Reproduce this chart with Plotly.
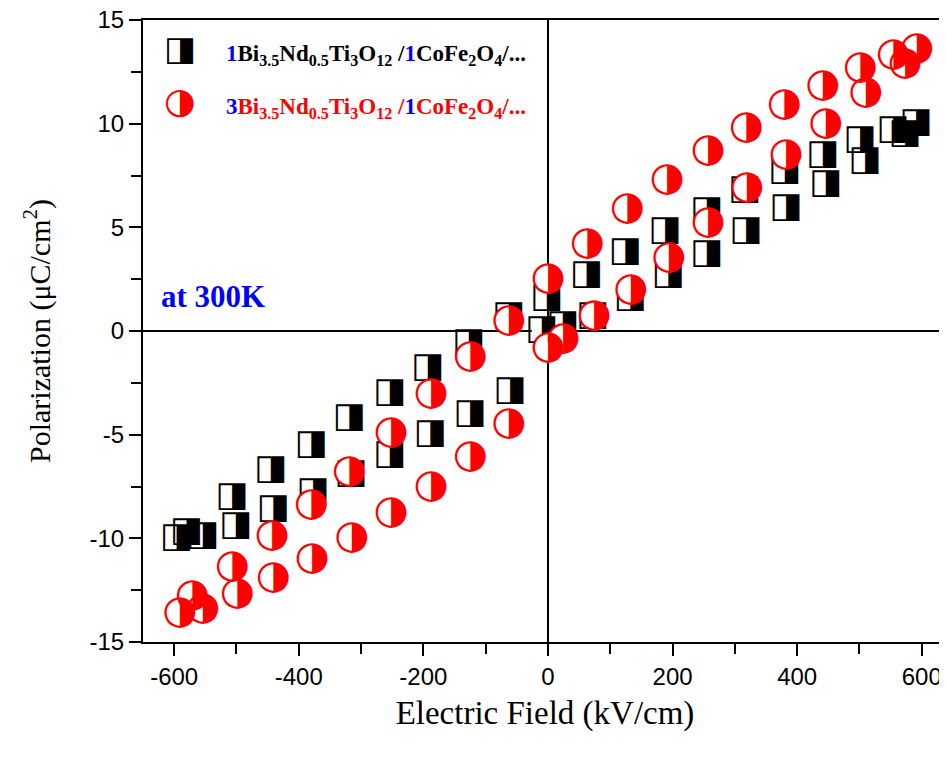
import plotly.graph_objects as go

# Series 1: 1Bi3.5Nd0.5Ti3O12/1CoFe2O4 (half-filled squares)
x_sq = [591, 554, 501, 441, 380, 316, 255, 188, 124, 62, -2, -63, -127, -193, -254, -319, -380, -445, -507, -580, -596,
        -554, -501, -441, -377, -316, -254, -189, -125, -61, -10, 24, 72, 132, 193, 255, 318, 382, 446, 509, 573]
y_sq = [10.0, 9.7, 9.2, 8.5, 7.7, 6.8, 5.8, 4.8, 3.8, 2.7, 1.6, 0.7, -0.6, -1.8, -3.0, -4.2, -5.5, -6.7, -8.0, -9.7, -10.0,
        -9.9, -9.4, -8.6, -7.8, -6.9, -6.0, -5.0, -4.0, -2.9, 0.05, 0.3, 0.7, 1.6, 2.7, 3.7, 4.8, 5.9, 7.1, 8.2, 9.5]

# Series 2: 3Bi3.5Nd0.5Ti3O12/1CoFe2O4 (half-filled circles)
x_ci = [592, 554, 501, 441, 379, 318, 257, 191, 127, 63, 0, -63, -125, -188, -252, -319, -380, -443, -507, -571, -591,
        -554, -499, -441, -379, -315, -252, -188, -125, -63, 0, 24, 74, 133, 194, 257, 319, 382, 446, 510, 573]
y_ci = [13.6, 13.3, 12.7, 11.8, 10.9, 9.8, 8.7, 7.3, 5.9, 4.2, 2.5, 0.5, -1.25, -3.05, -4.9, -6.8, -8.4, -9.9, -11.4, -12.8, -13.6,
        -13.4, -12.7, -11.9, -11.0, -10.0, -8.8, -7.5, -6.1, -4.5, -0.8, -0.4, 0.7, 2.0, 3.5, 5.2, 6.9, 8.5, 10.0, 11.5, 12.9]

x_ticks = [-600, -400, -200, 0, 200, 400, 600]
y_ticks = [-15, -10, -5, 0, 5, 10, 15]

SQ_GLYPH = "\u25E8"   # square with right half black
CI_GLYPH = "\u25D1"   # circle with right half black

fig = go.Figure()
fig.add_trace(go.Scatter(
    x=x_sq, y=y_sq, mode="markers+text",
    marker=dict(symbol="square", size=20, color="white", line=dict(width=0)),
    text=[SQ_GLYPH] * len(x_sq), textposition="middle center",
    textfont=dict(family="DejaVu Sans", size=35, color="black"),
    showlegend=False, hoverinfo="skip"))
fig.add_trace(go.Scatter(
    x=x_ci, y=y_ci, mode="markers+text",
    marker=dict(symbol="circle", size=28, color="white", line=dict(width=0)),
    text=[CI_GLYPH] * len(x_ci), textposition="middle center",
    textfont=dict(family="DejaVu Sans", size=40, color="red"),
    showlegend=False, hoverinfo="skip"))

tickfont = dict(family="Liberation Sans", size=24, color="black")
fig.update_xaxes(
    range=[-650, 640.5], tickvals=x_ticks, ticktext=[str(v) for v in x_ticks],
    ticks="outside", ticklen=12, tickwidth=2, tickcolor="black",
    minor=dict(ticks="outside", dtick=100, tick0=0, ticklen=10, tickwidth=2, tickcolor="black"),
    showline=True, linecolor="black", linewidth=2, mirror=True,
    showgrid=False, zeroline=True, zerolinecolor="black", zerolinewidth=1.5,
    tickfont=tickfont, ticklabeloverflow="allow",
    title=dict(text="Electric Field (kV/cm)", font=dict(family="Liberation Serif", size=33, color="black"), standoff=12),
    automargin=False)
fig.update_yaxes(
    range=[-15, 15], tickvals=y_ticks, ticktext=[str(v) for v in y_ticks],
    ticks="outside", ticklen=12, tickwidth=2, tickcolor="black",
    minor=dict(ticks="outside", dtick=2.5, tick0=0, ticklen=10, tickwidth=2, tickcolor="black"),
    showline=True, linecolor="black", linewidth=2, mirror=False,
    showgrid=False, zeroline=True, zerolinecolor="black", zerolinewidth=1.5,
    tickfont=tickfont, ticklabeloverflow="allow",
    title=dict(text="Polarization (\u03bcC/cm<sup>2</sup>)", font=dict(family="Liberation Serif", size=30, color="black"), standoff=30),
    automargin=False)

leg_font = dict(family="Liberation Serif", size=23)
B = "color:blue"
leg1 = ("<b><span style='%s'>1</span>Bi<sub>3.5</sub>Nd<sub>0.5</sub>Ti<sub>3</sub>O<sub>12</sub> /"
        "<span style='%s'>1</span>CoFe<sub>2</sub>O<sub>4</sub>/...</b>") % (B, B)
leg2 = ("<b><span style='%s'>3</span>Bi<sub>3.5</sub>Nd<sub>0.5</sub>Ti<sub>3</sub>O<sub>12</sub> /"
        "<span style='%s'>1</span>CoFe<sub>2</sub>O<sub>4</sub>/...</b>") % (B, B)

annotations = [
    dict(x=0.046, y=0.955, xref="paper", yref="paper", text=SQ_GLYPH, showarrow=False,
         font=dict(family="DejaVu Sans", size=34, color="black"), xanchor="center", yanchor="middle"),
    dict(x=0.046, y=0.870, xref="paper", yref="paper", text=CI_GLYPH, showarrow=False,
         font=dict(family="DejaVu Sans", size=36, color="red"), xanchor="center", yanchor="middle"),
    dict(x=0.101, y=0.944, xref="paper", yref="paper", text=leg1, showarrow=False,
         font=dict(color="black", **leg_font), xanchor="left", yanchor="middle"),
    dict(x=0.101, y=0.859, xref="paper", yref="paper", text=leg2, showarrow=False,
         font=dict(color="red", **leg_font), xanchor="left", yanchor="middle"),
    dict(x=0.087, y=0.555, xref="paper", yref="paper", text="<b>at 300K</b>", showarrow=False,
         font=dict(family="Liberation Serif", size=31, color="blue"), xanchor="center", yanchor="middle"),
]

fig.update_layout(
    width=939, height=749,
    margin=dict(l=135, r=0, t=12, b=115),
    paper_bgcolor="white", plot_bgcolor="white",
    annotations=annotations,
)

fig.write_html("out.html")
